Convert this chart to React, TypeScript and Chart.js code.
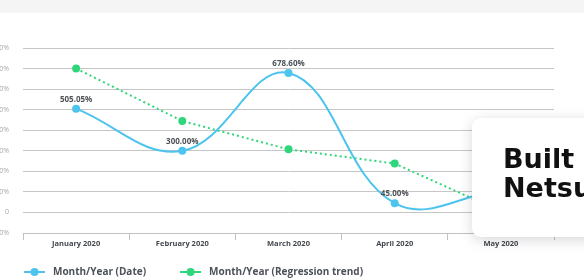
import React, { useEffect, useRef } from "react";
import { Chart, registerables } from "chart.js";

Chart.register(...registerables);

const categories = ["January 2020", "February 2020", "March 2020", "April 2020", "May 2020"];
const dateValues = [505.05, 300.0, 678.6, 45.0, 110];
const trendValues = [700, 445, 307, 238, 5];
const seriesNames = ["Month/Year (Date)", "Month/Year (Regression trend)"];
const yTicks = { min: -100, max: 800, step: 100 };

const BLUE = "#4cc4ee";
const GREEN = "#2fd67c";

const valueLabels = {
  id: "valueLabels",
  afterDatasetsDraw(chart: any) {
    const meta = chart.getDatasetMeta(0);
    const ctx = chart.ctx;
    ctx.save();
    ctx.font = "bold 8px 'Open Sans', sans-serif";
    ctx.fillStyle = "#4d5258";
    ctx.textAlign = "center";
    ctx.textBaseline = "middle";
    meta.data.forEach((pt: any, i: number) => {
      ctx.fillText(dateValues[i].toFixed(2) + "%", pt.x, pt.y - 9);
    });
    ctx.restore();
  },
};

const lineLegend = {
  id: "lineLegend",
  afterDraw(chart: any) {
    const ctx = chart.ctx;
    const y = 272;
    let x = 24;
    ctx.save();
    ctx.font = "bold 10px 'Open Sans', sans-serif";
    ctx.textBaseline = "middle";
    ctx.textAlign = "left";
    chart.data.datasets.forEach((ds: any) => {
      ctx.strokeStyle = ds.borderColor;
      ctx.lineWidth = 2;
      ctx.setLineDash([]);
      ctx.beginPath();
      ctx.moveTo(x, y);
      ctx.lineTo(x + 21, y);
      ctx.stroke();
      ctx.fillStyle = ds.borderColor;
      ctx.beginPath();
      ctx.arc(x + 10.5, y, 4, 0, Math.PI * 2);
      ctx.fill();
      ctx.fillStyle = "#4d5258";
      ctx.fillText(ds.label, x + 29, y);
      const w = ctx.measureText(ds.label).width;
      x += 29 + w + 34;
    });
    ctx.restore();
  },
};

function ChartView() {
  const ref = useRef<HTMLCanvasElement | null>(null);
  useEffect(() => {
    if (!ref.current) return;
    Chart.defaults.font.family = "'Open Sans', sans-serif";
    const chart = new Chart(ref.current, {
      type: "line",
      data: {
        labels: categories,
        datasets: [
          {
            label: seriesNames[0],
            data: dateValues,
            borderColor: BLUE,
            backgroundColor: BLUE,
            borderWidth: 2,
            tension: 0.4,
            pointRadius: 4,
            pointBorderWidth: 0,
            pointBackgroundColor: BLUE,
          },
          {
            label: seriesNames[1],
            data: trendValues,
            borderColor: GREEN,
            backgroundColor: GREEN,
            borderWidth: 2,
            borderDash: [2, 3],
            tension: 0,
            pointRadius: 4,
            pointBorderWidth: 0,
            pointBackgroundColor: GREEN,
          },
        ],
      },
      options: {
        responsive: false,
        animation: false,
        layout: { padding: { top: 48, right: 30, left: 0, bottom: 0 } },
        plugins: {
          legend: { display: false },
          tooltip: { enabled: false },
        },
        scales: {
          x: {
            offset: true,
            afterFit: (s: any) => {
              s.height = 47;
            },
            grid: {
              drawOnChartArea: false,
              drawTicks: true,
              tickLength: 7,
              color: "#c2c2c2",
              offset: true,
            },
            border: { display: true, color: "#c2c2c2" },
            ticks: {
              padding: -1,
              color: "#43484e",
              font: { size: 7.5, weight: "bold" },
              maxRotation: 0,
            },
          },
          y: {
            min: yTicks.min,
            max: yTicks.max,
            afterFit: (s: any) => {
              s.width = 23;
            },
            grid: { color: "#c6c6c6", drawTicks: false },
            border: { display: false },
            ticks: {
              stepSize: yTicks.step,
              padding: 14,
              color: "#a8a8a8",
              font: { size: 7 },
              callback: (v: any) => (v === 0 ? "0" : v + "%"),
            },
          },
        },
      },
      plugins: [valueLabels, lineLegend],
    });
    return () => chart.destroy();
  }, []);
  return <canvas ref={ref} width={584} height={280} style={{ display: "block", width: 584, height: 280 }} />;
}

export default function App() {
  return (
    <div
      style={{
        position: "fixed",
        left: 0,
        top: 0,
        width: 584,
        height: 280,
        overflow: "hidden",
        background: "#ffffff",
      }}
    >
      <ChartView />
      <div style={{ position: "absolute", left: 0, top: 0, width: 584, height: 13, background: "#f5f5f5" }} />
      <div
        style={{
          position: "absolute",
          left: 472,
          top: 118,
          width: 150,
          height: 119,
          background: "#ffffff",
          borderRadius: 9,
          boxShadow: "0 3px 14px rgba(0,0,0,0.16)",
          boxSizing: "border-box",
          paddingTop: 27,
          paddingLeft: 31,
          fontFamily: "'DejaVu Sans', sans-serif",
          fontWeight: 700,
          fontSize: 27,
          lineHeight: "28.5px",
          color: "#111111",
          whiteSpace: "nowrap",
        }}
      >
        <div>Built with</div>
        <div>Netsuite</div>
      </div>
    </div>
  );
}
